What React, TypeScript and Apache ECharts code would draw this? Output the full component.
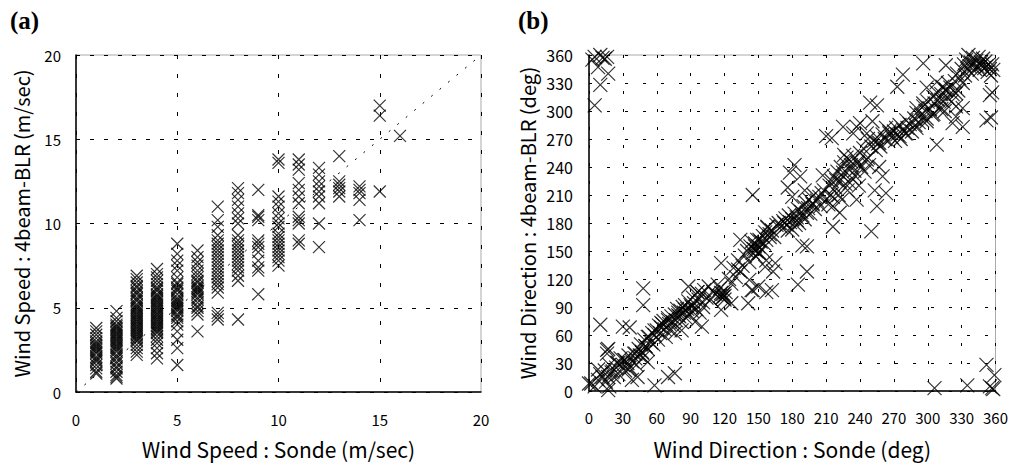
import React, { useEffect, useRef } from "react";
import * as echarts from "echarts";

// ---------- (a) Wind speed ----------
const speedTicks = [0, 5, 10, 15, 20];
const speedLevels = [1, 2, 3, 4, 5, 6, 7, 8, 9, 10, 11, 12, 13, 14, 15, 16];
const blrSpeedByLevel: number[][] = [
  [1.1, 1.2, 1.4, 1.6, 1.8, 1.9, 2.0, 2.1, 2.3, 2.4, 2.5, 2.6, 2.7, 2.8, 2.9, 3.0, 3.2, 3.4, 3.6, 3.8],
  [0.8, 0.9, 1.0, 1.2, 1.4, 1.5, 1.7, 1.8, 2.0, 2.1, 2.2, 2.4, 2.5, 2.6, 2.7, 2.8, 2.9, 3.0, 3.1, 3.2, 3.3, 3.4, 3.5, 3.6, 3.7, 3.8, 3.9, 4.0, 4.2, 4.4, 4.8],
  [2.2, 2.4, 2.6, 2.8, 3.0, 3.1, 3.2, 3.3, 3.4, 3.5, 3.6, 3.7, 3.8, 3.9, 4.0, 4.1, 4.2, 4.3, 4.4, 4.5, 4.6, 4.7, 4.8, 4.9, 5.0, 5.1, 5.2, 5.4, 5.5, 5.6, 5.8, 5.9, 6.0, 6.2, 6.3, 6.5, 6.7, 6.9],
  [2.0, 2.3, 2.6, 2.9, 3.1, 3.3, 3.5, 3.6, 3.7, 3.8, 3.9, 4.0, 4.1, 4.2, 4.3, 4.4, 4.5, 4.6, 4.7, 4.8, 4.9, 5.0, 5.1, 5.2, 5.3, 5.4, 5.5, 5.6, 5.7, 5.8, 6.0, 6.1, 6.2, 6.4, 6.6, 6.8, 7.0, 7.3],
  [1.6, 2.6, 3.1, 3.6, 4.0, 4.2, 4.4, 4.5, 4.6, 4.8, 4.9, 5.0, 5.1, 5.2, 5.3, 5.4, 5.5, 5.6, 5.8, 6.0, 6.1, 6.2, 6.4, 6.5, 6.8, 7.2, 7.5, 7.8, 8.2, 8.8],
  [3.6, 4.6, 4.8, 5.0, 5.1, 5.3, 5.5, 5.6, 5.8, 5.9, 6.0, 6.1, 6.2, 6.3, 6.5, 6.6, 6.8, 7.0, 7.2, 7.5, 7.7, 8.0, 8.4],
  [4.3, 4.5, 4.7, 5.9, 6.2, 6.4, 6.6, 6.8, 7.0, 7.2, 7.4, 7.6, 7.8, 8.0, 8.2, 8.4, 8.6, 8.8, 9.0, 9.3, 9.8, 10.2, 11.0],
  [4.3, 6.6, 6.9, 7.2, 7.4, 7.6, 7.8, 8.0, 8.2, 8.4, 8.6, 8.8, 9.0, 9.3, 10.0, 10.3, 10.6, 11.0, 11.4, 11.8, 12.1],
  [5.8, 7.2, 7.4, 7.8, 8.3, 8.6, 8.8, 9.0, 10.2, 10.4, 10.5, 12.0],
  [7.5, 7.8, 8.0, 8.2, 8.4, 8.6, 8.8, 9.0, 9.2, 9.4, 9.8, 10.0, 10.3, 10.6, 11.0, 11.3, 11.6, 13.6, 13.8],
  [8.8, 9.0, 10.0, 10.2, 10.4, 11.2, 11.6, 12.0, 12.4, 13.2, 13.5, 13.8],
  [8.6, 10.0, 11.2, 11.6, 11.9, 12.2, 12.5, 12.9, 13.3],
  [11.6, 11.9, 12.1, 12.3, 12.5, 14.0],
  [10.2, 11.4, 11.8, 12.0, 12.2],
  [11.9, 16.4, 17.0],
  [15.2],
];
const speedDiagonal: [number, number][] = [[0, 0], [20, 20]];

// ---------- (b) Wind direction ----------
const dirTicks = [0, 30, 60, 90, 120, 150, 180, 210, 240, 270, 300, 330, 360];
const directionPoints: [number, number][] = [
  // wrap-around near north
  [5, 358], [10, 360], [14, 356], [3, 355], [12, 357], [16, 358], [8, 347], [17, 340], [10, 328], [5, 306],
  [352, 28], [359, 17], [357, 3], [355, 5], [358, 2], [335, 6], [306, 3],
  // 0 - 60
  [2, 8], [5, 5], [8, 12], [10, 18], [12, 15], [14, 22], [15, 10], [16, 40], [17, 45], [18, 5], [18, 28], [20, 20],
  [22, 15], [24, 25], [25, 30], [26, 18], [28, 35], [30, 28], [31, 33], [32, 22], [34, 30], [35, 38], [36, 25],
  [38, 32], [40, 40], [41, 35], [42, 28], [44, 45], [45, 38], [46, 50], [47, 42], [48, 36], [49, 55], [50, 48],
  [52, 45], [53, 58], [55, 52], [56, 62], [57, 50], [58, 60], [60, 65], [61, 55],
  [17, 1], [16, 44], [17, 15], [10, 71], [30, 69], [36, 68], [48, 110], [48, 92], [26, 30], [32, 33], [35, 23],
  [41, 40], [47, 41], [50, 48], [52, 58], [58, 65], [70, 15], [76, 19], [58, 6], [38, 12], [0, 8], [8, 23],
  [21, 21], [43, 15], [52, 31],
  // 60 - 120
  [62, 70], [63, 62], [64, 68], [65, 72], [66, 75], [67, 66], [68, 58], [70, 78], [71, 72], [72, 65], [73, 80],
  [74, 74], [75, 70], [76, 82], [77, 76], [78, 88], [79, 84], [80, 80], [81, 86], [82, 74], [83, 90], [84, 84],
  [85, 92], [86, 78], [87, 88], [88, 96], [89, 82], [90, 92], [91, 86], [92, 100], [93, 94], [94, 74], [95, 88],
  [96, 106], [97, 98], [98, 84], [100, 104], [101, 95], [102, 108], [104, 100], [106, 112], [108, 98], [110, 106],
  [112, 104], [114, 114], [116, 102], [118, 100], [119, 104], [120, 102], [120, 98], [121, 106],
  [64, 73], [70, 76], [79, 81], [85, 87], [91, 90], [88, 112], [96, 106], [101, 90], [100, 69], [82, 65], [76, 62],
  // 120 - 180
  [124, 120], [126, 115], [128, 132], [130, 122], [132, 140], [134, 128], [136, 134], [138, 145], [140, 150],
  [142, 138], [143, 155], [144, 160], [145, 148], [146, 152], [147, 158], [148, 150], [148, 144], [149, 162],
  [150, 155], [151, 148], [152, 160], [153, 152], [154, 166], [155, 158], [156, 170], [157, 162], [158, 175],
  [160, 168], [162, 172], [164, 165], [166, 178], [168, 180], [170, 176], [172, 182], [174, 185], [175, 178],
  [176, 172], [177, 188], [178, 181], [180, 184],
  [117, 137], [117, 105], [126, 94], [117, 87], [132, 130], [147, 155], [150, 148], [151, 162], [144, 108],
  [150, 112], [162, 108], [156, 133], [141, 94], [165, 137], [173, 180], [158, 176], [134, 162], [160, 165],
  [157, 140], [163, 128], [157, 106], [145, 108], [142, 119], [116, 110], [119, 101], [145, 210], [178, 234], [176, 218],
  // 180 - 240
  [182, 190], [183, 178], [184, 186], [185, 195], [186, 180], [188, 192], [189, 188], [190, 198], [191, 184],
  [192, 202], [194, 196], [195, 205], [196, 190], [198, 200], [199, 210], [200, 195], [202, 204], [204, 208],
  [205, 198], [206, 212], [208, 215], [210, 205], [212, 200], [213, 220], [214, 210], [215, 225], [216, 198],
  [217, 230], [218, 218], [220, 235], [221, 210], [222, 225], [223, 240], [224, 205], [225, 230], [226, 245],
  [227, 222], [228, 250], [229, 215], [230, 238], [232, 246], [233, 228], [234, 252], [235, 236], [236, 230],
  [238, 244], [239, 220], [240, 255], [241, 240], [243, 260], [244, 235], [246, 248], [247, 270], [248, 242], [250, 262],
  [250, 171], [193, 155], [193, 128], [185, 114], [180, 173], [216, 176], [189, 156],
  [182, 242], [226, 253], [232, 242], [238, 246], [247, 250], [225, 234], [219, 226], [257, 240], [260, 230],
  [253, 215], [263, 212], [255, 198], [231, 223], [207, 231], [187, 230], [191, 215], [180, 208], [198, 201],
  [216, 208], [237, 205], [222, 191], [193, 191], [184, 183],
  // 240 - 300
  [252, 268], [254, 258], [255, 272], [256, 265], [258, 262], [260, 275], [262, 270], [263, 282], [265, 268],
  [266, 276], [268, 272], [270, 278], [271, 268], [272, 282], [273, 275], [275, 285], [276, 270], [278, 280],
  [280, 276], [281, 290], [282, 282], [284, 286], [286, 278], [288, 292], [289, 285], [290, 298], [292, 288],
  [294, 296], [295, 290], [296, 305], [298, 300], [299, 292],
  [255, 306], [251, 289], [266, 278], [275, 273], [281, 276], [215, 271], [225, 283], [237, 283], [234, 276],
  [246, 276], [257, 266], [308, 264], [290, 282], [299, 289], [305, 297], [249, 309], [240, 287], [210, 273],
  // 300 - 360
  [300, 310], [302, 302], [304, 296], [305, 315], [306, 308], [308, 320], [309, 312], [310, 302], [312, 318],
  [313, 326], [314, 310], [315, 300], [316, 322], [317, 315], [318, 330], [320, 325], [321, 310], [322, 318],
  [324, 332], [325, 305], [326, 340], [327, 322], [328, 335], [330, 345], [331, 330], [332, 350], [333, 338],
  [334, 355], [335, 345], [336, 360], [337, 348], [338, 352], [339, 340], [340, 357], [341, 350], [342, 345],
  [343, 354], [344, 348], [345, 358], [346, 344], [347, 352], [348, 350], [349, 356], [350, 346], [351, 353],
  [352, 348], [353, 342], [354, 350], [355, 345], [356, 338], [357, 350], [358, 344],
  [296, 351], [316, 349], [273, 326], [278, 339], [299, 325], [316, 323], [308, 331], [296, 308], [312, 312],
  [312, 302], [290, 303], [325, 319], [331, 303], [325, 294], [331, 283], [322, 287], [355, 317], [357, 320],
  [352, 290], [356, 293],
];

const CROSS = "path://M0 0L10 10M10 0L0 10";
const FONT = "Noto Sans CJK JP";

export default function App() {
  const ref = useRef<HTMLDivElement>(null);
  useEffect(() => {
    if (!ref.current) return;
    const chart = echarts.init(ref.current, null, { renderer: "svg" });
    const speedData: [number, number][] = [];
    speedLevels.forEach((lv, i) => {
      blrSpeedByLevel[i].forEach((v) => speedData.push([lv, v]));
    });

    const axisCommon = {
      axisTick: { show: false },
      axisLine: { show: true, onZero: false, lineStyle: { color: "#000", width: 1.5 } },
      axisLabel: { color: "#000", fontFamily: FONT, fontSize: 15 },
      nameTextStyle: { color: "#000", fontFamily: FONT, fontSize: 20 },
      nameLocation: "middle" as const,
    };

    chart.setOption({
      animation: false,
      backgroundColor: "#fff",
      grid: [
        { left: 76, top: 55, width: 405, height: 337, show: true, borderColor: "#aaa", borderWidth: 1 },
        { left: 589, top: 55, width: 407, height: 336, show: true, borderColor: "#aaa", borderWidth: 1 },
      ],
      xAxis: [
        {
          ...axisCommon,
          gridIndex: 0,
          type: "value",
          min: speedTicks[0],
          max: speedTicks[speedTicks.length - 1],
          interval: 5,
          name: "Wind Speed : Sonde (m/sec)",
          nameGap: 46,
          nameTextStyle: { ...axisCommon.nameTextStyle, fontSize: 21 },
          axisLabel: { ...axisCommon.axisLabel, margin: 20 },
          splitLine: { show: true, lineStyle: { color: "#000", width: 1, type: [4, 15] } },
        },
        {
          ...axisCommon,
          gridIndex: 1,
          type: "value",
          min: dirTicks[0],
          max: dirTicks[dirTicks.length - 1],
          interval: 30,
          name: "Wind Direction : Sonde (deg)",
          nameGap: 47,
          nameTextStyle: { ...axisCommon.nameTextStyle, fontSize: 21 },
          axisLabel: { ...axisCommon.axisLabel, margin: 19, fontSize: 15 },
          splitLine: { show: true, lineStyle: { color: "#000", width: 1, type: [3, 15] } },
        },
      ],
      yAxis: [
        {
          ...axisCommon,
          gridIndex: 0,
          type: "value",
          min: speedTicks[0],
          max: speedTicks[speedTicks.length - 1],
          interval: 5,
          name: "Wind Speed : 4beam-BLR (m/sec)",
          nameGap: 45,
          axisLabel: { ...axisCommon.axisLabel, margin: 15 },
          splitLine: { show: true, lineStyle: { color: "#000", width: 1, type: [4, 10] } },
        },
        {
          ...axisCommon,
          gridIndex: 1,
          type: "value",
          min: dirTicks[0],
          max: dirTicks[dirTicks.length - 1],
          interval: 30,
          name: "Wind Direction : 4beam-BLR (deg)",
          nameGap: 52,
          axisLabel: { ...axisCommon.axisLabel, margin: 16, fontSize: 16 },
          splitLine: { show: true, lineStyle: { color: "#000", width: 1, type: [3, 15] } },
        },
      ],
      graphic: [
        { type: "text", left: 10, top: 8, style: { text: "(a)", font: "bold 25px 'Liberation Serif'", fill: "#000" } },
        { type: "text", left: 518, top: 8, style: { text: "(b)", font: "bold 25px 'Liberation Serif'", fill: "#000" } },
      ],
      series: [
        {
          type: "line",
          xAxisIndex: 0,
          yAxisIndex: 0,
          data: speedDiagonal,
          symbol: "none",
          z: 1,
          lineStyle: { color: "#000", width: 1, type: [2, 9] },
        },
        {
          type: "scatter",
          xAxisIndex: 0,
          yAxisIndex: 0,
          data: speedData,
          symbol: CROSS,
          symbolSize: 12,
          z: 2,
          itemStyle: { color: "#000", borderColor: "#000", borderWidth: 1.2 },
        },
        {
          type: "scatter",
          xAxisIndex: 1,
          yAxisIndex: 1,
          data: directionPoints,
          symbol: CROSS,
          symbolSize: 14,
          z: 2,
          itemStyle: { color: "#000", borderColor: "#000", borderWidth: 1.2 },
        },
      ],
    });
    return () => chart.dispose();
  }, []);
  return (
    <div
      ref={ref}
      style={{ position: "fixed", left: 0, top: 0, width: 1011, height: 466, background: "#fff" }}
    />
  );
}
